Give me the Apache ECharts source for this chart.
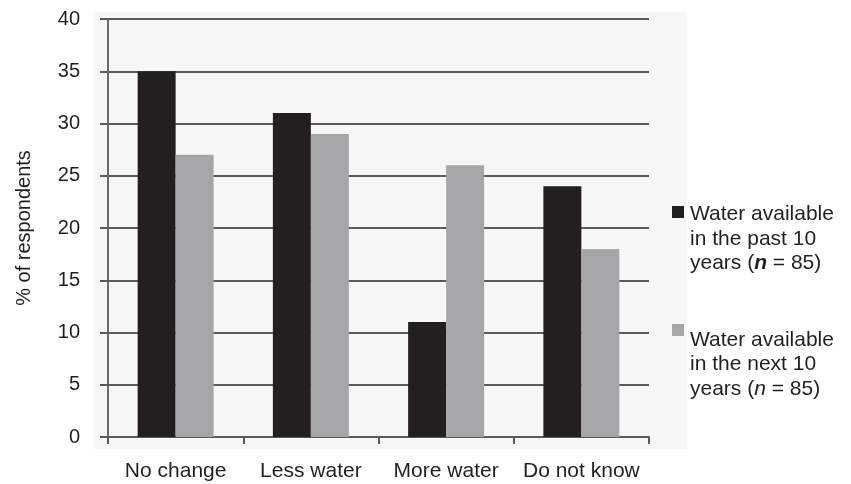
<!DOCTYPE html>
<html>
<head>
<meta charset="utf-8">
<script src="https://cdn.jsdelivr.net/npm/echarts@6/dist/echarts.min.js"></script>
<style>html,body{margin:0;padding:0;background:#fff;}#c{width:851px;height:484px;}</style>
</head>
<body>
<div id="c"></div>
<script>
var categories = ['No change', 'Less water', 'More water', 'Do not know'];
var pastValues = [35, 31, 11, 24];
var nextValues = [27, 29, 26, 18];
var seriesNames = ['Water available in the past 10 years (n = 85)', 'Water available in the next 10 years (n = 85)'];
var yTicks = [0, 5, 10, 15, 20, 25, 30, 35, 40];

var FONT = '"Liberation Sans", Arial, sans-serif';
var chart = echarts.init(document.getElementById('c'));
var legendRich = {
  a: { fontFamily: FONT, fontSize: 21, color: '#231f20', lineHeight: 24.5 },
  b: { fontFamily: FONT, fontSize: 21, color: '#231f20', lineHeight: 24.5, fontStyle: 'italic', fontWeight: 'bold' },
  i: { fontFamily: FONT, fontSize: 21, color: '#231f20', lineHeight: 24.5, fontStyle: 'italic' }
};
chart.setOption({
  animation: false,
  backgroundColor: '#ffffff',
  graphic: [{
    type: 'rect', left: 93, top: 12, z: -10, silent: true,
    shape: { width: 594, height: 437 },
    style: { fill: '#f7f7f7' }
  }],
  grid: { left: 108, right: 202, top: 19, bottom: 47, containLabel: false },
  legend: [{
    data: [seriesNames[0]], orient: 'vertical', left: 667, top: 199,
    icon: 'rect', itemWidth: 12, itemHeight: 12,
    formatter: function () { return '{a|Water available}\n{a|in the past 10}\n{a|years (}{b|n}{a| = 85)}'; },
    textStyle: { rich: legendRich, padding: [54, 0, 0, 1] }
  }, {
    data: [seriesNames[1]], orient: 'vertical', left: 667, top: 319,
    icon: 'rect', itemWidth: 12, itemHeight: 12,
    formatter: function () { return '{a|Water available}\n{a|in the next 10}\n{a|years (}{i|n}{a| = 85)}'; },
    textStyle: { rich: legendRich, padding: [69, 0, 0, 1] }
  }],
  xAxis: {
    type: 'category', data: categories,
    axisLine: { lineStyle: { color: '#5a5a5a', width: 2 } },
    axisTick: { show: true, length: 7, interval: 0, alignWithLabel: false, lineStyle: { color: '#5a5a5a', width: 2 } },
    axisLabel: { interval: 0, fontFamily: FONT, fontSize: 21, color: '#231f20', margin: 24 }
  },
  yAxis: {
    type: 'value', min: 0, max: 40, interval: 5,
    name: '% of respondents', nameLocation: 'middle', nameRotate: 90, nameGap: 74,
    nameTextStyle: { fontFamily: FONT, fontSize: 20, color: '#231f20' },
    axisLine: { show: true, lineStyle: { color: '#6a6a6a', width: 2 } },
    axisTick: { show: true, length: 8, lineStyle: { color: '#5a5a5a', width: 2 } },
    axisLabel: { fontFamily: FONT, fontSize: 20, color: '#231f20', margin: 28,
      formatter: function (v) { return yTicks.indexOf(v) >= 0 ? String(v) : ''; } },
    splitLine: { show: true, lineStyle: { color: '#5a5a5a', width: 2 } }
  },
  series: [{
    name: seriesNames[0], type: 'bar', data: pastValues,
    barWidth: 38, barGap: '0%', itemStyle: { color: '#231f20' }
  }, {
    name: seriesNames[1], type: 'bar', data: nextValues,
    barWidth: 38, barGap: '0%', itemStyle: { color: '#a6a6a8' }
  }]
});
</script>
</body>
</html>
